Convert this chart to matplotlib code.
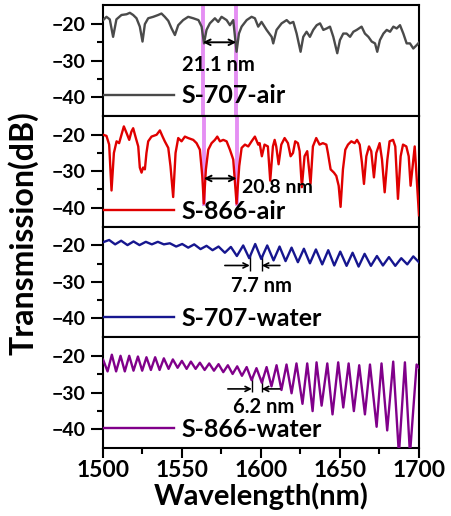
import numpy as np
import matplotlib
matplotlib.use("Agg")
import matplotlib.pyplot as plt
from matplotlib.ticker import MultipleLocator, FixedLocator

plt.rcParams['font.family'] = ['Lato', 'DejaVu Sans']
plt.rcParams['font.weight'] = 'bold'

# ---- data (wavelength in nm, transmission in dB) ----
wl_707_air = [1500.2, 1502.3, 1504.4, 1506.5, 1508.6, 1511.8, 1515.0, 1517.1, 1519.2, 1521.3,
              1523.4, 1525.1, 1526.6, 1528.7, 1531.9, 1535.0, 1537.1, 1539.2, 1541.4, 1543.5,
              1545.6, 1547.7, 1550.8, 1554.0, 1557.2, 1560.5, 1562.5, 1564.0, 1565.6, 1567.7,
              1570.9, 1573.0, 1575.1, 1578.3, 1580.4, 1582.5, 1584.6, 1586.1, 1587.8, 1591.0,
              1594.1, 1596.2, 1598.3, 1600.4, 1603.6, 1606.8, 1607.8, 1609.9, 1613.1, 1616.3,
              1618.4, 1620.5, 1622.6, 1625.1, 1626.8, 1628.9, 1631.0, 1633.1, 1635.3, 1637.4,
              1639.5, 1641.6, 1643.7, 1645.8, 1648.3, 1650.0, 1652.1, 1654.2, 1656.4, 1658.5,
              1660.6, 1663.7, 1665.8, 1668.0, 1670.1, 1672.2, 1673.6, 1675.3, 1677.5, 1679.6,
              1681.7, 1683.8, 1685.9, 1688.0, 1690.1, 1692.2, 1694.3, 1696.4, 1698.5, 1700.6]
db_707_air = [-18.9, -18.0, -18.7, -23.5, -18.7, -17.5, -17.3, -16.9, -17.5, -18.4,
              -20.7, -24.8, -20.0, -18.4, -18.0, -17.5, -17.1, -18.0, -19.1, -21.2,
              -23.0, -20.3, -18.9, -18.0, -18.4, -18.9, -20.7, -25.3, -21.6, -19.8,
              -18.4, -19.4, -18.0, -18.9, -20.3, -18.9, -27.6, -22.6, -20.7, -18.9,
              -18.0, -18.4, -20.7, -19.4, -21.6, -23.5, -25.3, -21.6, -19.8, -18.9,
              -19.8, -19.4, -22.6, -27.6, -23.5, -22.1, -23.5, -21.6, -20.3, -19.8,
              -21.6, -21.2, -20.7, -23.5, -28.0, -24.4, -22.6, -22.6, -23.5, -22.1,
              -21.6, -20.7, -22.6, -23.5, -24.8, -25.3, -27.6, -24.4, -22.6, -21.6,
              -22.1, -20.7, -21.2, -20.3, -22.6, -25.3, -25.3, -26.7, -25.8, -24.8]

wl_866_air = [1500.2, 1502.3, 1504.0, 1505.5, 1507.0, 1508.7, 1510.3, 1511.8, 1513.3, 1515.0,
              1516.7, 1518.1, 1519.2, 1520.9, 1522.4, 1523.4, 1524.5, 1525.5, 1526.6, 1527.6,
              1528.7, 1530.8, 1534.0, 1536.1, 1537.8, 1539.2, 1541.4, 1542.8, 1544.5, 1546.0,
              1547.7, 1549.8, 1551.9, 1554.0, 1557.2, 1559.3, 1561.4, 1562.9, 1563.9, 1565.2,
              1566.7, 1568.8, 1570.9, 1572.4, 1574.1, 1576.2, 1578.3, 1580.4, 1582.5, 1584.6,
              1586.3, 1587.8, 1589.9, 1592.0, 1594.1, 1596.2, 1598.3,
              1599.2, 1600.6, 1602.3, 1604.4, 1605.9, 1607.6, 1608.7, 1609.7, 1611.2, 1612.9,
              1615.0, 1617.1, 1618.8, 1620.3, 1621.7, 1623.4, 1624.5, 1625.9, 1627.6, 1629.3,
              1631.4, 1632.9, 1635.0, 1637.1, 1639.2, 1641.4, 1642.4, 1644.1, 1646.2, 1647.7,
              1649.2, 1650.4, 1651.9, 1653.4, 1655.1, 1657.2, 1659.3, 1660.8, 1662.5, 1663.9,
              1665.2, 1666.7, 1668.4, 1669.8, 1671.5, 1673.0, 1675.1, 1676.6, 1678.3, 1680.0,
              1681.4, 1683.6, 1685.0, 1686.7, 1688.4, 1689.9, 1692.0, 1693.5, 1694.7, 1697.3,
              1700.0]
db_866_air = [-20.0, -20.3, -22.7, -35.3, -25.0, -21.8, -22.3, -20.0, -17.7, -19.5,
              -21.4, -19.1, -18.2, -20.9, -23.2, -29.0, -30.4, -29.0, -29.5, -25.0,
              -21.8, -20.5, -20.0, -18.8, -20.5, -21.8, -23.6, -28.6, -37.1, -25.0,
              -20.9, -21.8, -20.5, -20.9, -21.4, -22.3, -24.1, -31.3, -38.9, -29.5,
              -24.1, -22.3, -21.4, -20.5, -21.8, -21.4, -21.8, -24.1, -26.8, -38.9,
              -28.6, -23.6, -22.7, -23.2, -21.8, -20.5, -22.7,
              -22.3, -25.9, -22.7, -23.2, -32.6, -23.2, -21.4, -23.2, -28.1, -22.7,
              -20.9, -22.3, -25.9, -25.0, -21.8, -22.3, -24.5, -34.4, -25.9, -24.5,
              -33.5, -23.2, -20.9, -22.7, -22.3, -22.7, -25.0, -29.5, -30.4, -31.3,
              -34.0, -39.8, -29.5, -24.1, -22.7, -21.8, -22.3, -21.4, -22.7, -27.6,
              -33.5, -25.9, -23.2, -24.5, -31.7, -25.0, -22.3, -26.8, -35.8, -26.8,
              -21.8, -21.4, -23.2, -37.6, -25.9, -22.7, -23.2, -25.9, -34.0, -23.2,
              -42.1]

wl_707_water = [1500.2, 1504.0, 1507.8, 1511.6, 1515.6, 1519.4, 1523.2, 1527.2, 1531.0, 1534.8,
                1538.6, 1542.4, 1546.4, 1550.2, 1554.0, 1557.8, 1561.8, 1565.6, 1569.4, 1573.2,
                1577.2, 1581.0, 1584.8, 1588.8, 1592.6, 1596.4, 1600.2, 1604.0, 1608.0, 1611.8,
                1615.6, 1619.4, 1623.4, 1627.2, 1631.0, 1634.8, 1638.8, 1642.6, 1646.4, 1650.2,
                1654.2, 1658.0, 1661.8, 1665.6, 1669.6, 1673.4, 1677.2, 1681.0, 1685.0, 1688.8,
                1692.6, 1696.4, 1700.4]
db_707_water = [-19.1, -18.5, -19.7, -18.7, -19.9, -18.9, -19.9, -19.0, -19.7, -19.0,
                -19.7, -19.4, -20.3, -19.6, -20.6, -19.7, -21.0, -20.1, -21.3, -20.3,
                -22.0, -20.4, -22.9, -20.0, -23.5, -19.6, -23.7, -20.0, -24.1, -20.3,
                -24.3, -20.6, -24.6, -20.9, -24.9, -21.1, -25.2, -21.3, -25.5, -21.7,
                -25.6, -22.0, -25.8, -22.3, -25.6, -22.9, -25.5, -23.2, -25.6, -23.5,
                -25.2, -23.0, -24.8]

wl_866_water = [1500.2, 1503.0, 1505.7, 1508.4, 1511.2, 1513.9, 1516.7, 1519.4, 1522.2, 1524.9,
                1527.6, 1530.4, 1533.1, 1535.9, 1538.6, 1541.6, 1544.3, 1547.3, 1550.0, 1553.0,
                1555.7, 1558.7, 1561.4, 1564.4, 1567.3, 1570.3, 1573.2, 1576.2, 1579.1, 1582.1,
                1585.0, 1588.0, 1591.0, 1594.1, 1597.2, 1600.6, 1603.6, 1606.7, 1609.9, 1613.0,
                1616.2, 1619.4, 1622.5, 1626.3, 1629.3, 1632.7, 1635.2, 1638.4, 1642.0, 1645.3,
                1648.9, 1652.1, 1655.5, 1658.8, 1662.2, 1665.8, 1669.0, 1673.2, 1676.3, 1679.9,
                1683.7, 1687.3, 1691.1, 1694.3, 1698.5, 1700.6]
db_866_water = [-21.0, -24.2, -19.6, -24.2, -19.9, -24.2, -19.9, -24.0, -20.1, -24.0,
                -20.3, -23.8, -20.3, -23.8, -20.6, -23.5, -20.9, -23.2, -21.3, -23.5,
                -21.5, -23.5, -21.8, -23.8, -22.0, -24.0, -22.2, -24.4, -22.5, -24.9,
                -22.8, -25.4, -23.0, -26.6, -23.3, -27.3, -23.0, -28.3, -22.5, -29.3,
                -22.3, -30.2, -22.0, -33.1, -22.0, -35.1, -21.7, -33.6, -22.0, -36.0,
                -21.7, -34.1, -22.0, -35.1, -22.5, -36.0, -22.3, -39.4, -22.0, -40.4,
                -21.5, -47.0, -21.7, -47.0, -22.3, -23.5]

labels = ['S-707-air', 'S-866-air', 'S-707-water', 'S-866-water']
colors = ['#4a4a4a', '#e00000', '#16168f', '#80008a']
series = [(wl_707_air, db_707_air), (wl_866_air, db_866_air),
          (wl_707_water, db_707_water), (wl_866_water, db_866_water)]
legend_y = [0.18, 0.14, 0.17, 0.17]

# spacing markers
air_707_dips = [1563.3, 1584.4]
air_866_dips = [1563.9, 1584.6]
water_707_dips = [1593.0, 1600.6]
water_866_dips = [1594.3, 1600.6]

fig, axes = plt.subplots(4, 1, figsize=(4.51, 5.16), dpi=100, sharex=True)
fig.subplots_adjust(left=0.228, right=0.929, top=0.990, bottom=0.132, hspace=0)

for i, ax in enumerate(axes):
    x, y = series[i]
    ax.plot(x, y, color=colors[i], lw=1.7, label=labels[i], zorder=3)
    ax.set_xlim(1500, 1700)
    ax.set_ylim(-45.2, -14.8)
    ax.yaxis.set_major_locator(FixedLocator([-40, -30, -20]))
    ax.yaxis.set_minor_locator(FixedLocator([-35, -25]))
    ax.xaxis.set_major_locator(MultipleLocator(50))
    ax.xaxis.set_minor_locator(MultipleLocator(25))
    ax.tick_params(axis='y', which='major', direction='out', length=8.5, width=1.5, labelsize=14, pad=4)
    ax.tick_params(axis='y', which='minor', direction='out', length=4, width=1.5)
    for s in ax.spines.values():
        s.set_linewidth(1.5)
    if i < 3:
        ax.tick_params(axis='x', which='both', bottom=False, labelbottom=False)
    else:
        ax.tick_params(axis='x', which='major', direction='out', length=7.5, width=1.5, labelsize=16.5, pad=1)
        ax.tick_params(axis='x', which='minor', direction='out', length=4, width=1.5)
    leg = ax.legend(loc='center left', bbox_to_anchor=(0.005, legend_y[i]), frameon=False,
                    handlelength=2.8, handletextpad=0.3, borderpad=0, borderaxespad=0,
                    prop={'size': 18, 'weight': 'bold'})
    leg.get_lines()[0].set_linewidth(1.7)

# magenta guide lines through the two air spectra
mag = '#e283f2'
for xv in air_707_dips:
    axes[0].axvline(xv, color=mag, lw=2.8, alpha=0.9, zorder=1)
for xv in air_866_dips:
    axes[1].axvline(xv, color=mag, lw=2.8, alpha=0.9, ymin=0.2, zorder=1)

arrow = dict(arrowstyle='<->', color='black', lw=1.4, mutation_scale=10, shrinkA=0, shrinkB=0)
axes[0].annotate('', xy=(air_707_dips[0], -25), xytext=(air_707_dips[1], -25), arrowprops=arrow)
axes[0].text(1573.4, -31.2, '21.1 nm', ha='center', va='center', fontsize=14.5, fontweight='bold')

axes[1].annotate('', xy=(air_866_dips[0], -32), xytext=(air_866_dips[1], -32), arrowprops=arrow)
axes[1].text(1588.0, -34.6, '20.8 nm', ha='left', va='center', fontsize=14, fontweight='bold')

one = dict(arrowstyle='->', color='black', lw=1.2, mutation_scale=9, shrinkA=0, shrinkB=0)
axes[2].vlines(water_707_dips, -22.6, -27.0, color='black', lw=1.0)
axes[2].annotate('', xy=(water_707_dips[0], -25.5), xytext=(1577.2, -25.5), arrowprops=one)
axes[2].annotate('', xy=(water_707_dips[1], -25.5), xytext=(1612.0, -25.5), arrowprops=one)
axes[2].text(1600.3, -31.2, '7.7 nm', ha='center', va='center', fontsize=14.5, fontweight='bold')

axes[3].vlines(water_866_dips, -25.8, -29.9, color='black', lw=1.0)
axes[3].annotate('', xy=(water_866_dips[0], -29.0), xytext=(1579.1, -29.0), arrowprops=one)
axes[3].annotate('', xy=(water_866_dips[1], -29.0), xytext=(1612.0, -29.0), arrowprops=one)
axes[3].text(1601.9, -34.1, '6.2 nm', ha='center', va='center', fontsize=14.5, fontweight='bold')

axes[3].set_xlabel('Wavelength(nm)', fontsize=21, fontweight='bold', labelpad=1)
fig.text(0.052, 0.548, 'Transmission(dB)', rotation=90, ha='center', va='center',
         fontsize=23, fontweight='bold')

fig.savefig('out.png', dpi=100)
